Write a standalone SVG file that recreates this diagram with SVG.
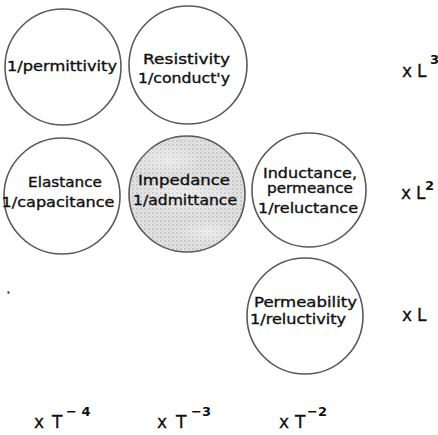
<svg xmlns="http://www.w3.org/2000/svg" width="438" height="435" viewBox="0 0 438 435">
<defs>
<pattern id="halftone" width="4" height="4" patternUnits="userSpaceOnUse">
<rect width="4" height="4" fill="#e2e2e2"/>
<circle cx="1" cy="1" r="0.9" fill="#bdbdbd"/>
<circle cx="3" cy="3" r="0.6" fill="#cccccc"/>
</pattern>
<radialGradient id="blotch" cx="0.5" cy="0.5" r="0.5">
<stop offset="0" stop-color="#ffffff" stop-opacity="0.45"/>
<stop offset="1" stop-color="#ffffff" stop-opacity="0"/>
</radialGradient>
</defs>
<style>
.node{fill:#ffffff;stroke:#5a5a5a;stroke-width:1.6}
.shaded{fill:url(#halftone);stroke:#5a5a5a;stroke-width:1.6}
.t{font-family:"DejaVu Sans","Liberation Sans",sans-serif;font-size:14px;fill:#111111;stroke:#111111;stroke-width:0.35;text-anchor:middle}
.lab{font-family:"DejaVu Sans","Liberation Sans",sans-serif;font-size:17px;fill:#111111;stroke:#111111;stroke-width:0.3}
.sup{font-family:"DejaVu Sans","Liberation Sans",sans-serif;font-size:13px;font-weight:bold;fill:#111111}
</style>
<rect width="438" height="435" fill="#ffffff"/>
<g id="connectors"/>
<g id="node-permittivity">
<circle class="node" cx="63" cy="67" r="58"/>
<text class="t" x="62" y="71" textLength="110" lengthAdjust="spacingAndGlyphs">1/permittivity</text>
</g>
<g id="node-resistivity">
<circle class="node" cx="188" cy="65" r="59"/>
<text class="t" x="186.5" y="64" textLength="87" lengthAdjust="spacingAndGlyphs">Resistivity</text>
<text class="t" x="184" y="83" textLength="92" lengthAdjust="spacingAndGlyphs">1/conduct'y</text>
</g>
<g id="node-elastance">
<circle class="node" cx="62" cy="196" r="58"/>
<text class="t" x="65" y="187" textLength="74" lengthAdjust="spacingAndGlyphs">Elastance</text>
<text class="t" x="58" y="207" textLength="113" lengthAdjust="spacingAndGlyphs">1/capacitance</text>
</g>
<g id="node-impedance">
<circle class="shaded" cx="187" cy="194" r="58"/>
<ellipse cx="168" cy="160" rx="32" ry="16" fill="url(#blotch)"/>
<ellipse cx="207" cy="232" rx="30" ry="12" fill="url(#blotch)"/>
<ellipse cx="186" cy="195" rx="50" ry="20" fill="url(#blotch)"/>
<text class="t" x="184" y="185" textLength="92" lengthAdjust="spacingAndGlyphs">Impedance</text>
<text class="t" x="185" y="205" textLength="104" lengthAdjust="spacingAndGlyphs">1/admittance</text>
</g>
<g id="node-inductance">
<circle class="node" cx="309" cy="190" r="57"/>
<text class="t" x="310" y="178" textLength="94" lengthAdjust="spacingAndGlyphs">Inductance,</text>
<text class="t" x="310" y="193" textLength="86" lengthAdjust="spacingAndGlyphs">permeance</text>
<text class="t" x="308" y="213" textLength="100" lengthAdjust="spacingAndGlyphs">1/reluctance</text>
</g>
<g id="node-permeability">
<circle class="node" cx="305" cy="316" r="58"/>
<text class="t" x="305.5" y="307" textLength="103" lengthAdjust="spacingAndGlyphs">Permeability</text>
<text class="t" x="298" y="324" textLength="96" lengthAdjust="spacingAndGlyphs">1/reluctivity</text>
</g>
<g id="axis-labels">
<text class="lab" x="402" y="77">x</text><text class="lab" x="417" y="77">L</text><text class="sup" x="430" y="64">3</text>
<text class="lab" x="401" y="199">x</text><text class="lab" x="416" y="199">L</text><text class="sup" x="425" y="190">2</text>
<text class="lab" x="402" y="321">x</text><text class="lab" x="417" y="321">L</text>
<text class="lab" x="34" y="428">x</text><text class="lab" x="52" y="428">T</text><text class="sup" x="66" y="416">− 4</text>
<text class="lab" x="157" y="428">x</text><text class="lab" x="176" y="428">T</text><text class="sup" x="191" y="416">−3</text>
<text class="lab" x="279" y="428">x</text><text class="lab" x="295" y="428">T</text><text class="sup" x="307" y="416">−2</text>
</g>
<rect x="7.5" y="291.5" width="2" height="2" fill="#222222"/>
</svg>
